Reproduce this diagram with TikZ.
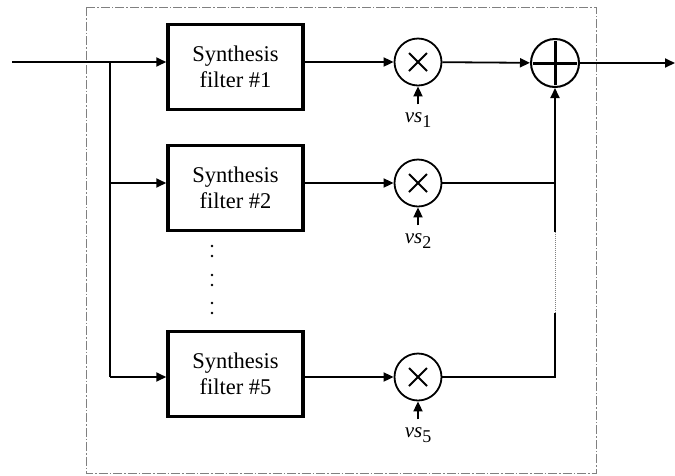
\documentclass[tikz,border=0pt]{standalone}
\usepackage{fontspec}
\setmainfont{Liberation Serif}
\usetikzlibrary{arrows.meta,positioning,calc}

\tikzset{
  wire/.style={line width=1.8pt},
  sig/.style={wire, -{Triangle[length=10pt,width=9pt]}},
  frame/.style={gray, line width=0.9pt, dash pattern=on 9pt off 2pt on 1.5pt off 2pt},
  filterbox/.style={draw, line width=3.5pt, minimum width=135pt, minimum height=85pt,
    align=center, font=\fontsize{22.5}{26}\selectfont},
  mult/.style={circle, draw, line width=1.8pt, minimum size=47pt, inner sep=0pt,
    path picture={
      \draw[line width=2pt] ([shift={(-9pt,-9pt)}]path picture bounding box.center) -- ([shift={(9pt,9pt)}]path picture bounding box.center);
      \draw[line width=2pt] ([shift={(-9pt,9pt)}]path picture bounding box.center) -- ([shift={(9pt,-9pt)}]path picture bounding box.center);
    }},
  adder/.style={circle, draw, line width=2pt, minimum size=48pt, inner sep=0pt,
    path picture={
      \draw[line width=3pt] ([xshift=-22pt]path picture bounding box.center) -- ([xshift=22pt]path picture bounding box.center);
      \draw[line width=3pt] ([yshift=-22pt]path picture bounding box.center) -- ([yshift=22pt]path picture bounding box.center);
    }},
  lab/.style={inner xsep=1pt, inner ysep=8pt, font=\fontsize{21}{24}\selectfont},
}

\begin{document}
\begin{tikzpicture}[x=1pt,y=-1pt]
\useasboundingbox (0,0) rectangle (675,475);
\draw[frame] (86,7) rectangle (596,473);

\coordinate (in) at (12,62);
\coordinate (br) at (110,62);
\node[adder] (add) at (555,63) {};
\coordinate (out) at (675,63);

% filter rows
\foreach \i/\y/\b in {1/62/67,2/183/188,5/377/374} {
  \node[filterbox] (f\i) at (235.5,\b) {Synthesis\\filter \#\i};
  \node[mult] (m\i) at (418,\y) {};
  \node[lab, below=18pt of m\i] (vs\i) {\textit{vs}\raisebox{-0.55ex}{\fontsize{18}{18}\selectfont\i}};
  \draw[sig] (br |- m\i) -- (f\i.west |- m\i);
  \draw[sig] (f\i.east |- m\i) -- (m\i);
  \draw[sig] (vs\i) -- (m\i);
}
\draw[wire] (in) -- (br) -- (br |- m5);

% vertical dots between filters
\foreach \y in {246,256,275,285,303,313} {
  \fill (212,\y) circle (1.4pt);
}

% summing
\coordinate (j2) at (m2 -| add);
\coordinate (d1) at ($(j2)+(0,49)$);
\coordinate (d2) at ($(add |- m5)+(0,-64)$);
\draw[sig] (m1) -- (add);
\draw[wire] (m2) -- (j2);
\draw[wire] (m5) -| (d2);
\draw[gray, line width=1pt, densely dotted] (d2) -- (d1);
\draw[sig] (d1) -- (add);
\draw[sig] (add) -- (out);
\end{tikzpicture}
\end{document}
